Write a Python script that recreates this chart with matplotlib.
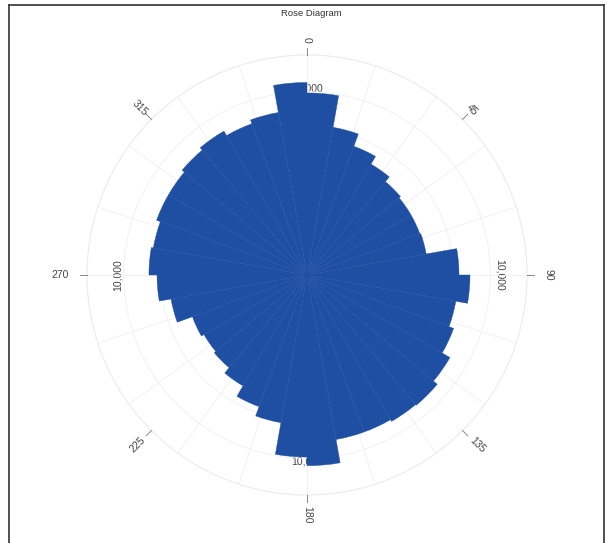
import numpy as np
import matplotlib
matplotlib.use("Agg")
import matplotlib.pyplot as plt
from matplotlib.lines import Line2D

# ---- data (10-degree bins, start angle in compass degrees) ----
bin_starts = list(range(0, 360, 10))
counts = [9930, 8180, 7470, 6980, 6650, 6550, 6550, 6600, 8290,
          8890, 8240, 8510, 9000, 9270, 9220, 9110, 9110, 10400,
          9930, 8180, 7640, 6980, 6600, 6490, 6650, 7530, 8180,
          8620, 8510, 8730, 8730, 8890, 9060, 8780, 9000, 10500]
angle_ticks = [0, 45, 90, 135, 180, 225, 270, 315]
angle_labels = ["0", "45", "90", "135", "180", "225", "270", "315"]
radial_ticks = [2000, 4000, 6000, 8000, 10000]
radial_label = "10,000"
title = "Rose Diagram"

plt.rcParams['font.family'] = ['Liberation Sans', 'DejaVu Sans']

W, H = 611, 543
fig = plt.figure(figsize=(W / 100, H / 100), dpi=100)

cx, cy, R = 307, 275, 220
ax = fig.add_axes([(cx - R) / W, (H - cy - R) / H, 2 * R / W, 2 * R / H],
                  projection='polar')
ax.set_theta_zero_location('N')
ax.set_theta_direction(-1)
ax.set_ylim(0, 12000)

width = np.deg2rad(10)
theta = np.deg2rad(np.array(bin_starts) + 5)
ax.bar(theta, counts, width=width, color='#1f4fa3', edgecolor='#1f4fa3',
       linewidth=0.3, zorder=3)

ax.set_yticks(radial_ticks)
ax.set_yticklabels([])
ax.set_xticks(np.deg2rad(np.arange(0, 360, 18)))
ax.set_xticklabels([])
ax.grid(True, color='#f2f2f2', linewidth=0.7)
ax.spines['polar'].set_color('#ebebeb')
ax.spines['polar'].set_linewidth(0.8)
ax.tick_params(axis='x', length=0)

# radial labels drawn underneath the bars
for ang, rot, rr in [(0, 0, 10150), (90, -90, 10530), (180, 0, 10150), (270, 90, 10310)]:
    ax.text(np.deg2rad(ang), rr, radial_label, rotation=rot,
            ha='center', va='center', fontsize=7.5, color='#444444', zorder=1)

# angular tick marks and labels
rots = {0: -90, 45: -45, 90: -90, 135: -45, 180: -90, 225: 45, 270: 0, 315: -45}
lab_r = {0: 12820, 45: 12760, 90: 13150, 135: 13150, 180: 13090, 225: 13090,
         270: 13470, 315: 12900}
for a, lab in zip(angle_ticks, angle_labels):
    t = np.deg2rad(a)
    ax.plot([t, t], [12000, 12400], color='#888888', lw=0.7, clip_on=False, zorder=4)
    ax.text(t, lab_r[a], lab, rotation=rots[a], ha='center', va='center',
            fontsize=7.5, color='#444444', clip_on=False)

fig.text(311 / W, 1 - 13 / H, title, ha='center', va='center', fontsize=6.8,
         color='#333333')

# figure frame
fig.add_artist(Line2D([9 / W, 9 / W], [0, 1 - 5 / H], color='#333333', lw=1.2))
fig.add_artist(Line2D([9 / W, 604 / W], [1 - 5 / H, 1 - 5 / H], color='#333333', lw=1.2))
fig.add_artist(Line2D([604 / W, 604 / W], [0, 1 - 5 / H], color='#333333', lw=1.2))

fig.savefig('out.png', dpi=100)
